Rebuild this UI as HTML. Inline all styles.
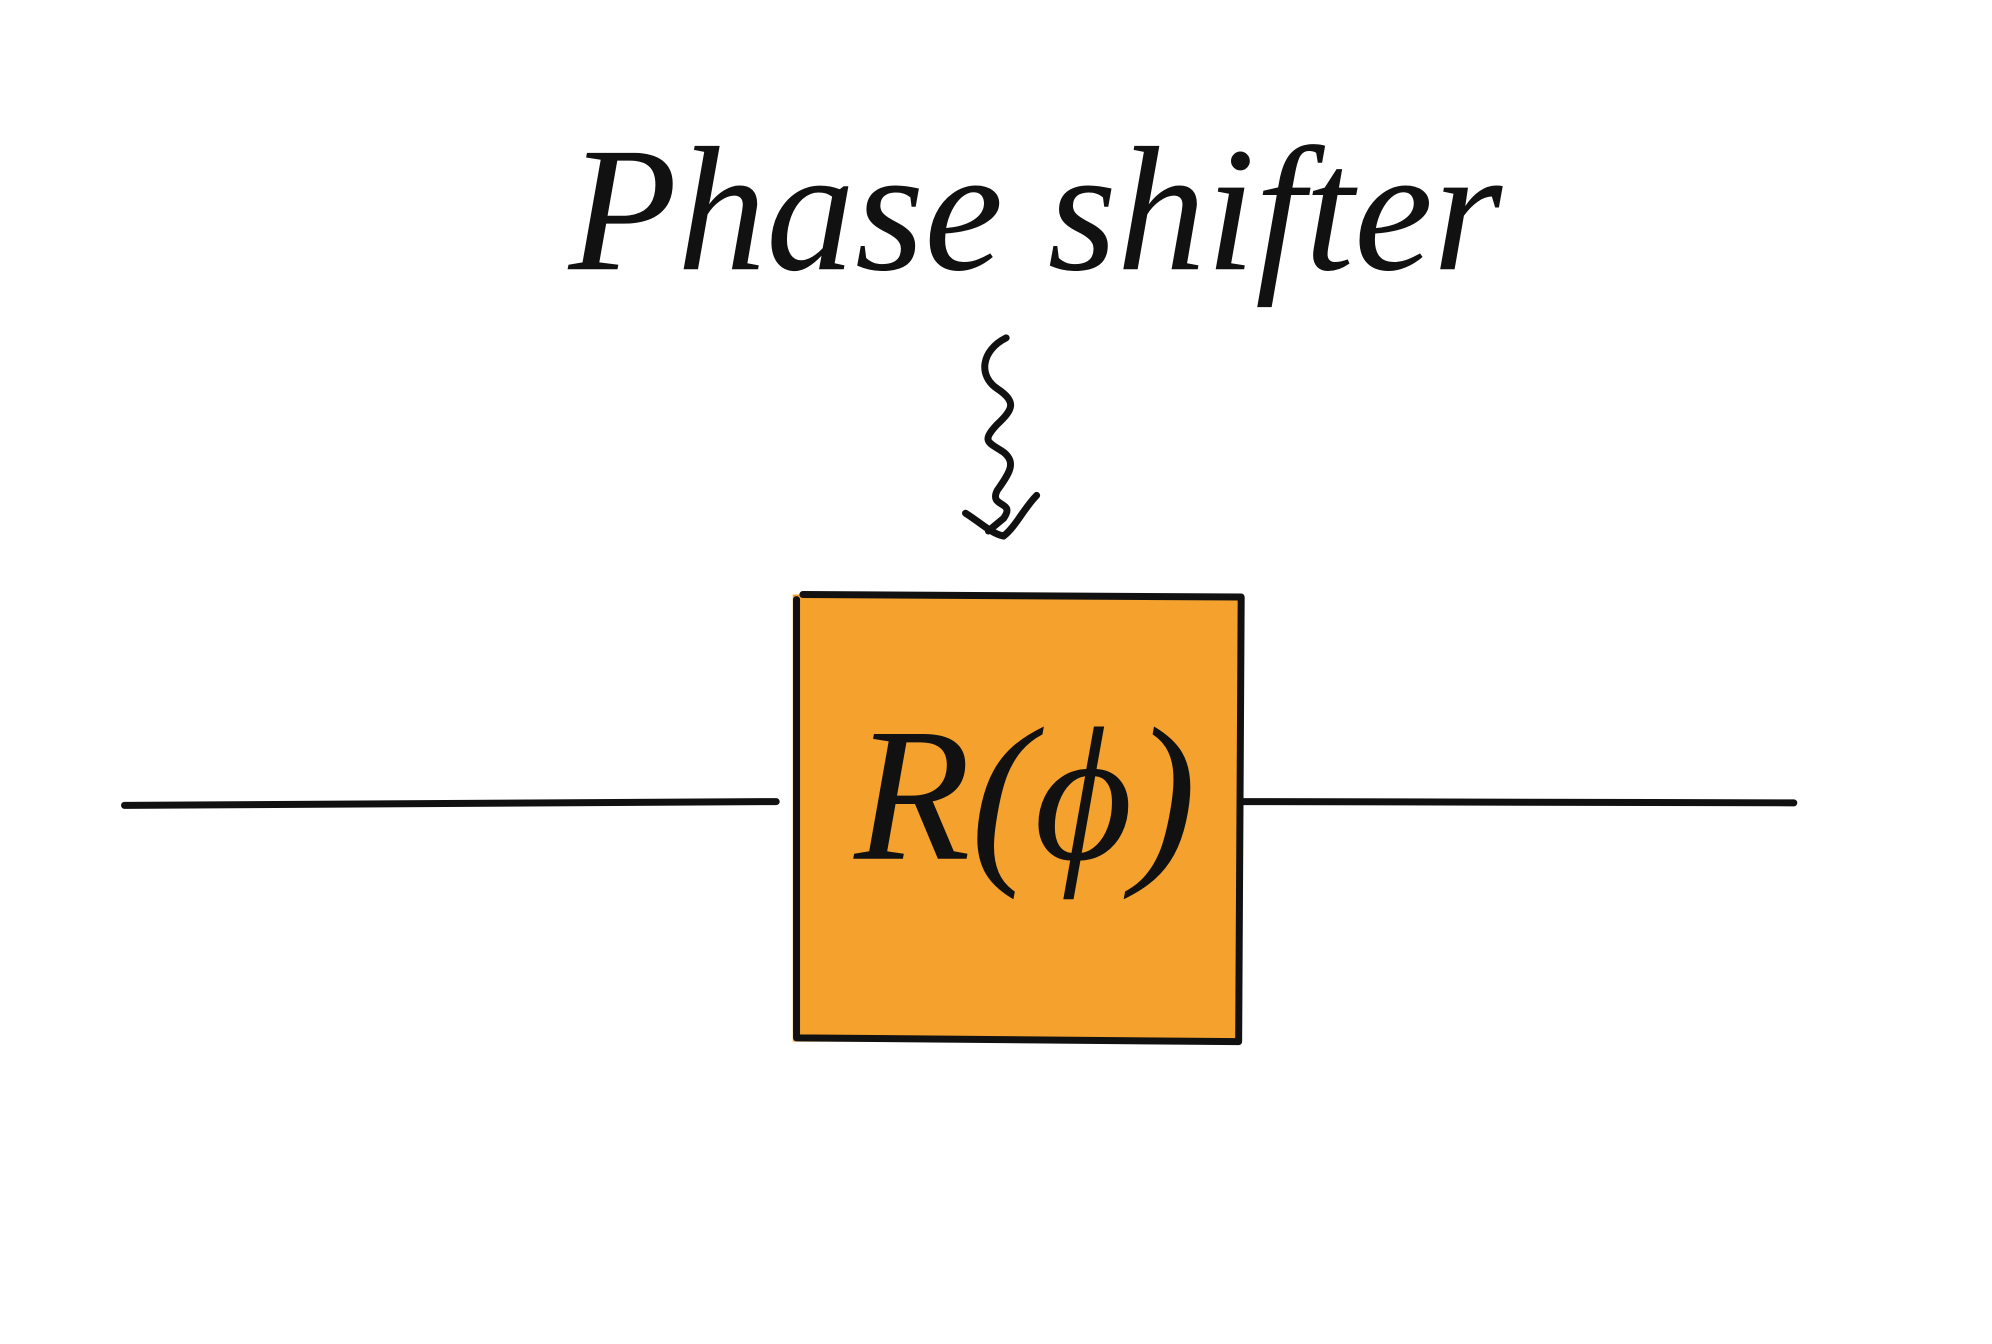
<!DOCTYPE html>
<html><head><meta charset="utf-8"><style>html,body{margin:0;padding:0;background:#fff}svg{display:block}</style></head>
<body>
<svg width="1992" height="1344" viewBox="0 0 1568 1058" preserveAspectRatio="none" xmlns="http://www.w3.org/2000/svg">
<rect x="0" y="0" width="1568" height="1058" fill="#fff"/>
<rect x="624" y="468" width="352" height="352" fill="#f5a12d"/>
<g stroke="#111" stroke-width="5.5" fill="none" stroke-linecap="round" stroke-linejoin="round">
<path d="M632 468 L977 470 L975 820 L627 817 L627 472"/>
<path d="M98 634 L611 631"/>
<path d="M979 631 L1412 632"/>
<path d="M792 266 C772 276 770 296 785 306 C800 316 798 322 785 334 C772 348 778 348 790 356 C800 364 795 372 785 386 C778 400 800 394 790 408 L778 418 M760 404 C770 410 780 420 790 422 C800 414 806 400 816 390"/>
</g>
<text x="815" y="212" text-anchor="middle" font-family="Liberation Serif, serif" font-style="italic" font-size="140" fill="#111">Phase shifter</text>
<text x="807" y="676" text-anchor="middle" font-family="Liberation Serif, serif" font-style="italic" font-size="150" fill="#111">R(ϕ)</text>
</svg>
</body></html>
